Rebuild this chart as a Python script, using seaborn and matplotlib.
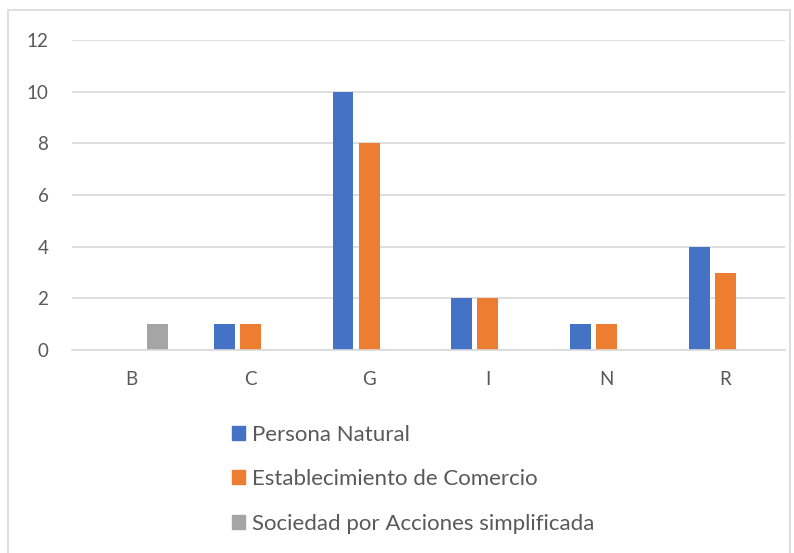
import pandas as pd
import matplotlib.pyplot as plt
import seaborn as sns
from matplotlib.patches import Rectangle

# Data
categories = ["B", "C", "G", "I", "N", "R"]
persona_natural = [0, 1, 10, 2, 1, 4]
establecimiento = [0, 1, 8, 2, 1, 3]
sociedad_sas = [1, 0, 0, 0, 0, 0]
series_names = ["Persona Natural", "Establecimiento de Comercio",
                "Sociedad por Acciones simplificada"]
colors = ["#4472C4", "#ED7D31", "#A5A5A5"]

df = pd.DataFrame({
    "Categoria": categories * 3,
    "Valor": persona_natural + establecimiento + sociedad_sas,
    "Tipo": [series_names[0]] * 6 + [series_names[1]] * 6 + [series_names[2]] * 6,
})

sns.set_style("white")
plt.rcParams["font.family"] = ["Lato", "DejaVu Sans"]
text_color = "#595959"

fig = plt.figure(figsize=(7.94, 5.53), dpi=100)
ax = fig.add_axes([0.0907, 0.367, 0.898, 0.5606])

sns.barplot(data=df, x="Categoria", y="Valor", hue="Tipo", palette=colors,
            width=0.66, gap=0.2, ax=ax, legend=False, saturation=1, linewidth=0)

ax.set_ylim(0, 12)
ax.set_xlim(-0.5, 5.5)
ax.set_yticks(range(0, 13, 2))
ax.yaxis.grid(True, color="#D9D9D9", linewidth=1.2)
ax.set_axisbelow(True)
for side in ["top", "right", "left"]:
    ax.spines[side].set_visible(False)
ax.spines["bottom"].set_color("#D9D9D9")
ax.spines["bottom"].set_linewidth(1.2)
ax.tick_params(axis="both", length=0, labelsize=13.5, labelcolor=text_color)
ax.tick_params(axis="y", pad=17)
ax.tick_params(axis="x", pad=15)
ax.set_xlabel("")
ax.set_ylabel("")

# Legend below the plot, one entry per row
handles = [Rectangle((0, 0), 1, 1, color=c) for c in colors]
fig.legend(handles, series_names, loc="upper left", bbox_to_anchor=(0.292, 0.232),
           frameon=False, fontsize=16, labelcolor=text_color, ncol=1,
           handlelength=0.6, handleheight=0.6, handletextpad=0.3,
           labelspacing=1.1, borderpad=0, borderaxespad=0)

# Chart border
fig.patches.append(Rectangle((0.01, -0.01), 0.985, 0.992, transform=fig.transFigure,
                             fill=False, edgecolor="#D9D9D9", linewidth=1.2))

fig.savefig("out.png", dpi=100)
